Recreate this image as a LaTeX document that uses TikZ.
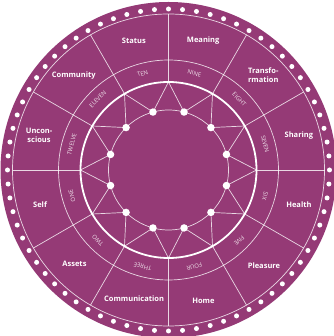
\documentclass[tikz,border=0pt]{standalone}
\usepackage{fontspec}
\usetikzlibrary{calc}
\newfontfamily\labfont{Open Sans}
\definecolor{wheel}{RGB}{149,58,118}
\begin{document}
\begin{tikzpicture}[x=1pt,y=1pt,
  thinline/.style={draw=white, draw opacity=0.8, line width=0.7pt},
  lbl/.style={font=\labfont\bfseries\fontsize{7.5}{8.6}\selectfont, text=white, align=center, inner sep=0pt},
  numlbl/.style={font=\labfont\fontsize{5.9}{6}\selectfont, text=white, text opacity=0.85, inner sep=0pt},
  bigdot/.style={circle, fill=white, inner sep=0pt, minimum size=7.5pt},
  edgedot/.style={circle, fill=white, inner sep=0pt, minimum size=5pt}]
\useasboundingbox (0,0) rectangle (333,336);
\coordinate (O) at (168.5,166);
\fill[wheel] (O) circle[radius=168pt];
% edge dots
\foreach \i in {0,...,71} \node[edgedot] (e\i) at ($(O)+(\i*5:161pt)$) {};
% circles
\draw[thinline] (O) circle[radius=156pt];
\draw[thinline] (O) circle[radius=110pt];
\draw[thinline] (O) circle[radius=60pt];
\draw[white, line width=1.8pt] (O) circle[radius=88pt];
% points
\foreach \k in {0,...,11} {
  \coordinate (p\k) at ($(O)+(\k*30:88pt)$);
  \coordinate (q\k) at ($(O)+(\k*30:156pt)$);
  \coordinate (c\k) at ($(O)+(\k*30+15:60pt)$);
}
% radial lines and zigzag
\foreach \k in {0,...,11} {
  \pgfmathtruncatemacro{\m}{mod(\k+11,12)}
  \draw[thinline] (p\k) -- (q\k);
  \draw[thinline] (c\m) -- (p\k) -- (c\k);
}
% dots
\foreach \k in {0,...,11} \node[bigdot] (d\k) at (c\k) {};
% number words
\foreach \ang/\txt in {15/SEVEN,45/EIGHT,75/NINE,105/TEN,135/ELEVEN,165/TWELVE,195/ONE,225/TWO,255/THREE,285/FOUR,315/FIVE,345/SIX}
  \node[numlbl, rotate=\ang-90] (n\ang) at ($(O)+(\ang:100pt)$) {\txt};
% house labels
\node[lbl] (l105) at ($(O)+(105:134pt)$) {Status};
\node[lbl] (l75) at ($(O)+(75:134pt)$) {Meaning};
\node[lbl] (l45) at ($(O)+(45:134pt)$) {Transfo-\\rmation};
\node[lbl] (l15) at ($(O)+(15:135pt)$) {Sharing};
\node[lbl] (l345) at ($(O)+(345:135pt)$) {Health};
\node[lbl] (l315) at ($(O)+(315:135pt)$) {Pleasure};
\node[lbl] (l285) at ($(O)+(285:135pt)$) {Home};
\node[lbl] (l255) at ($(O)+(255:133pt)$) {Communication};
\node[lbl] (l225) at ($(O)+(225:133pt)$) {Assets};
\node[lbl] (l195) at ($(O)+(195:133pt)$) {Self};
\node[lbl] (l165) at ($(O)+(165:134pt)$) {Uncon-\\scious};
\node[lbl] (l135) at ($(O)+(135:134pt)$) {Community};
\end{tikzpicture}
\end{document}
